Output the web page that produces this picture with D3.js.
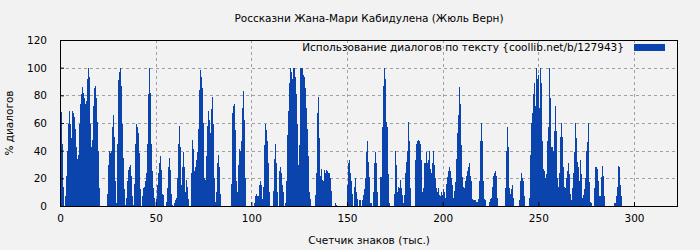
<!DOCTYPE html>
<html>
<head>
<meta charset="utf-8">
<script src="https://cdn.jsdelivr.net/npm/d3@7"></script>
<style>
  body { margin: 0; background: #f2f2f2; }
  svg { display: block; font-family: "DejaVu Sans", sans-serif; }
</style>
</head>
<body>
<div id="chart"></div>
<script>
// Dialogue share (%) per text slice
const dialogShare = [
  84,68,45,14,0,7,22,40,59,69,
  59,49,69,67,64,56,43,34,37,59,
  74,81,86,82,78,74,76,92,100,93,
  59,43,48,72,85,87,78,61,40,13,
  0,0,0,0,0,0,0,9,30,40,
  38,40,57,66,50,18,2,45,91,97,
  100,87,59,35,12,1,6,18,26,28,
  30,22,7,1,16,45,59,57,53,38,
  12,0,7,13,14,18,24,45,81,100,
  82,45,25,13,6,0,5,15,24,31,
  36,26,9,8,0,
  0,3,13,28,35,26,9,1,0,2,
  4,6,20,45,58,43,15,28,39,28,
  10,19,14,5,0,0,24,48,41,25,
  28,33,39,56,84,98,93,85,60,20,
  19,36,58,69,62,53,70,79,59,20,
  3,10,31,37,28,9,0,0,0,0,
  0,0,0,0,0,0,16,67,72,74,
  55,18,10,30,41,40,47,71,83,62,
  20,0,0,0,0,0,0,0,0,2,
  7,9,7,7,15,18,15,5,14,44,
  59,55,47,31,10,0,0,0,11,34,
  45,31,10,0,25,28,24,15,10,0,
  2,18,51,69,89,100,97,92,100,100,
  93,81,59,30,44,100,100,100,95,93,
  85,71,56,36,10,5,0,0,0,0,
  8,24,67,79,49,22,27,19,18,26,
  24,26,25,24,24,20,11,0,0,0,
  2,1,0,0,0,0,0,0,0,0,
  0,0,15,31,33,24,18,9,0,14,
  20,10,5,0,4,4,0,4,8,12,
  20,39,47,32,21,
  2,2,0,10,31,39,31,10,0,0,
  21,21,57,87,100,92,61,57,23,2,
  0,0,0,0,9,40,30,10,14,13,
  19,13,8,2,8,24,32,40,61,47,
  13,0,0,0,0,33,45,47,48,47,
  45,33,10,13,31,31,39,31,33,40,
  27,24,31,40,30,20,13,10,13,8,
  7,10,8,12,10,6,16,21,25,28,
  25,20,15,6,11,17,34,53,66,86,
  74,44,21,14,13,18,22,25,28,31,
  22,18,5,4,4,
  4,3,3,5,18,47,60,47,18,5,
  4,0,0,0,3,5,6,14,22,24,
  25,22,6,0,0,0,0,0,0,0,
  13,40,57,43,13,9,12,15,6,0,
  0,0,0,0,4,18,24,20,18,7,
  0,0,0,0,6,37,60,67,81,89,
  72,100,92,95,71,100,89,47,27,25,
  20,23,47,57,100,78,43,43,40,54,
  72,54,20,14,24,50,60,50,28,14,
  13,20,25,31,23,9,4,13,24,39,
  60,49,32,28,18,
  33,23,6,8,12,20,40,46,60,17,
  3,2,0,0,13,28,28,27,18,7,
  7,21,29,22,7,0,0,0,0,0,
  0,0,0,0,2,2,7,14,29,28,
  15,7
];
// width of one slice in thousands of characters
const sliceK = 0.5226;

const xTicks = [0, 50, 100, 150, 200, 250, 300];
const yTicks = [0, 20, 40, 60, 80, 100, 120];

const chartTitle = "Россказни Жана-Мари Кабидулена (Жюль Верн)";
const xTitle = "Счетчик знаков (тыс.)";
const yTitle = "% диалогов";
const legendText = "Использование диалогов по тексту {coollib.net/b/127943}";

const W = 700, H = 250;
const margin = {top: 40, right: 22, bottom: 44, left: 60};
const width = W - margin.left - margin.right;
const height = H - margin.top - margin.bottom;
const barColor = "#0a44ac";
const fontSize = 10.5;

const svg = d3.select("#chart").append("svg")
  .attr("width", W).attr("height", H);

svg.append("rect").attr("width", W).attr("height", H).attr("fill", "#f2f2f2");

const g = svg.append("g")
  .attr("transform", `translate(${margin.left},${margin.top})`);

const x = d3.scaleLinear().domain([0, 323]).range([0, width]);
const y = d3.scaleLinear().domain([0, 120]).range([height, 0]);

// grid
g.selectAll(".vgrid").data(xTicks.filter(t => t > 0)).enter()
  .append("line")
  .attr("x1", d => Math.round(x(d)) + 0.5).attr("x2", d => Math.round(x(d)) + 0.5)
  .attr("y1", 0).attr("y2", height)
  .attr("stroke", "#a0a0a0").attr("stroke-dasharray", "3,3");
g.selectAll(".hgrid").data(yTicks.filter(t => t > 0 && t < 120)).enter()
  .append("line")
  .attr("x1", 0).attr("x2", width)
  .attr("y1", d => Math.round(y(d)) + 0.5).attr("y2", d => Math.round(y(d)) + 0.5)
  .attr("stroke", "#a0a0a0").attr("stroke-dasharray", "3,3");

// bars
g.selectAll(".bar").data(dialogShare).enter()
  .append("rect")
  .attr("class", "bar")
  .attr("x", (d, i) => x(i * sliceK))
  .attr("width", x(sliceK) - x(0) + 0.2)
  .attr("y", d => y(d))
  .attr("height", d => height - y(d))
  .attr("fill", barColor)
  .attr("shape-rendering", "crispEdges");

// axes, ticks pointing inward
const xAxis = g.append("g")
  .attr("transform", `translate(0,${height})`)
  .call(d3.axisBottom(x).tickValues(xTicks).tickSizeInner(-4).tickSizeOuter(0).tickPadding(9));
const yAxis = g.append("g")
  .call(d3.axisLeft(y).tickValues(yTicks).tickSizeInner(-4).tickSizeOuter(0).tickPadding(13));
[xAxis, yAxis].forEach(a => {
  a.select(".domain").remove();
  a.selectAll("text").attr("font-size", fontSize).attr("fill", "#000")
    .attr("font-family", "DejaVu Sans, sans-serif");
  a.selectAll("line").attr("stroke", "#000");
});

// frame
g.append("rect")
  .attr("x", 0.5).attr("y", 0.5)
  .attr("width", width - 1).attr("height", height)
  .attr("fill", "none").attr("stroke", "#000");

// titles
svg.append("text")
  .attr("x", margin.left + width / 2).attr("y", 22)
  .attr("text-anchor", "middle").attr("font-size", fontSize)
  .text(chartTitle);

svg.append("text")
  .attr("x", margin.left + width / 2).attr("y", 244)
  .attr("text-anchor", "middle").attr("font-size", fontSize)
  .text(xTitle);

svg.append("text")
  .attr("transform", `translate(13,${margin.top + height / 2}) rotate(-90)`)
  .attr("text-anchor", "middle").attr("font-size", fontSize)
  .text(yTitle);

// legend
svg.append("text")
  .attr("x", 624).attr("y", 51)
  .attr("text-anchor", "end").attr("font-size", fontSize)
  .text(legendText);
svg.append("rect")
  .attr("x", 634).attr("y", 44).attr("width", 31).attr("height", 7)
  .attr("fill", barColor);
</script>
</body>
</html>
